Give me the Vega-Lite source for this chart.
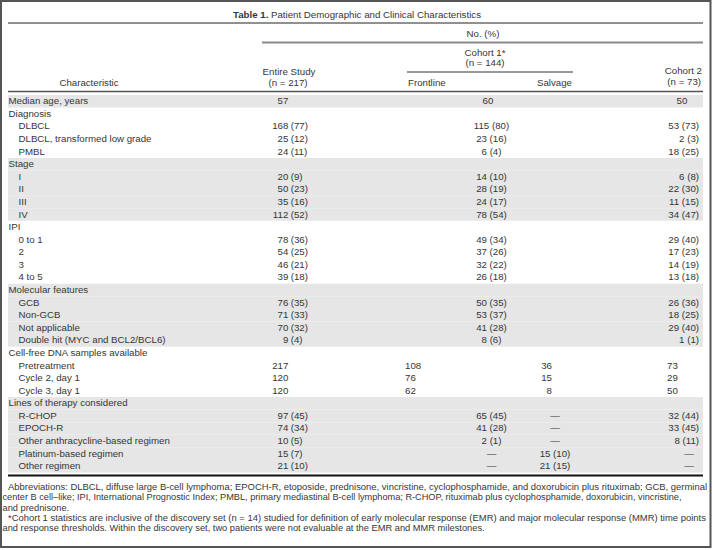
{
  "$schema": "https://vega.github.io/schema/vega-lite/v6.json",
  "width": 712,
  "height": 550,
  "autosize": {"type": "fit", "contains": "padding"},
  "padding": 0,
  "background": "white",
  "config": {
    "view": {"stroke": null},
    "axis": {"disable": true},
    "text": {"font": "Liberation Sans", "fontSize": 9.7, "color": "#363636", "baseline": "middle"}
  },
  "datasets": {
    "rows": [
      {"r": 1, "lab": "Median age, years", "lvl": "g", "sec": 1, "en": "57", "c1": "60", "c2": "50"},
      {"r": 2, "lab": "Diagnosis", "lvl": "g", "sec": 2},
      {"r": 3, "lab": "DLBCL", "lvl": "i", "sec": 2, "en": "168", "ep": "(77)", "fr": "115 (80)", "c2": "53 (73)"},
      {"r": 4, "lab": "DLBCL, transformed low grade", "lvl": "i", "sec": 2, "en": "25", "ep": "(12)", "fr": "23 (16)", "c2": "2 (3)"},
      {"r": 5, "lab": "PMBL", "lvl": "i", "sec": 2, "en": "24", "ep": "(11)", "fr": "6 (4)", "c2": "18 (25)"},
      {"r": 6, "lab": "Stage", "lvl": "g", "sec": 3},
      {"r": 7, "lab": "I", "lvl": "i", "sec": 3, "en": "20", "ep": "(9)", "fr": "14 (10)", "c2": "6 (8)"},
      {"r": 8, "lab": "II", "lvl": "i", "sec": 3, "en": "50", "ep": "(23)", "fr": "28 (19)", "c2": "22 (30)"},
      {"r": 9, "lab": "III", "lvl": "i", "sec": 3, "en": "35", "ep": "(16)", "fr": "24 (17)", "c2": "11 (15)"},
      {"r": 10, "lab": "IV", "lvl": "i", "sec": 3, "en": "112", "ep": "(52)", "fr": "78 (54)", "c2": "34 (47)"},
      {"r": 11, "lab": "IPI", "lvl": "g", "sec": 4},
      {"r": 12, "lab": "0 to 1", "lvl": "i", "sec": 4, "en": "78", "ep": "(36)", "fr": "49 (34)", "c2": "29 (40)"},
      {"r": 13, "lab": "2", "lvl": "i", "sec": 4, "en": "54", "ep": "(25)", "fr": "37 (26)", "c2": "17 (23)"},
      {"r": 14, "lab": "3", "lvl": "i", "sec": 4, "en": "46", "ep": "(21)", "fr": "32 (22)", "c2": "14 (19)"},
      {"r": 15, "lab": "4 to 5", "lvl": "i", "sec": 4, "en": "39", "ep": "(18)", "fr": "26 (18)", "c2": "13 (18)"},
      {"r": 16, "lab": "Molecular features", "lvl": "g", "sec": 5},
      {"r": 17, "lab": "GCB", "lvl": "i", "sec": 5, "en": "76", "ep": "(35)", "fr": "50 (35)", "c2": "26 (36)"},
      {"r": 18, "lab": "Non-GCB", "lvl": "i", "sec": 5, "en": "71", "ep": "(33)", "fr": "53 (37)", "c2": "18 (25)"},
      {"r": 19, "lab": "Not applicable", "lvl": "i", "sec": 5, "en": "70", "ep": "(32)", "fr": "41 (28)", "c2": "29 (40)"},
      {"r": 20, "lab": "Double hit (MYC and BCL2/BCL6)", "lvl": "i", "sec": 5, "en": "9", "ep": "(4)", "fr": "8 (6)", "c2": "1 (1)"},
      {"r": 21, "lab": "Cell-free DNA samples available", "lvl": "g", "sec": 6},
      {"r": 22, "lab": "Pretreatment", "lvl": "i", "sec": 6, "en": "217", "fr": "108", "sv": "36", "c2": "73"},
      {"r": 23, "lab": "Cycle 2, day 1", "lvl": "i", "sec": 6, "en": "120", "fr": "76", "sv": "15", "c2": "29"},
      {"r": 24, "lab": "Cycle 3, day 1", "lvl": "i", "sec": 6, "en": "120", "fr": "62", "sv": "8", "c2": "50"},
      {"r": 25, "lab": "Lines of therapy considered", "lvl": "g", "sec": 7},
      {"r": 26, "lab": "R-CHOP", "lvl": "i", "sec": 7, "en": "97", "ep": "(45)", "fr": "65 (45)", "sv": "—", "c2": "32 (44)"},
      {"r": 27, "lab": "EPOCH-R", "lvl": "i", "sec": 7, "en": "74", "ep": "(34)", "fr": "41 (28)", "sv": "—", "c2": "33 (45)"},
      {"r": 28, "lab": "Other anthracycline-based regimen", "lvl": "i", "sec": 7, "en": "10", "ep": "(5)", "fr": "2 (1)", "sv": "—", "c2": "8 (11)"},
      {"r": 29, "lab": "Platinum-based regimen", "lvl": "i", "sec": 7, "en": "15", "ep": "(7)", "fr": "—", "sv": "15 (10)", "c2": "—"},
      {"r": 30, "lab": "Other regimen", "lvl": "i", "sec": 7, "en": "21", "ep": "(10)", "fr": "—", "sv": "21 (15)", "c2": "—"}
    ]
  },
  "resolve": {"scale": {"y": "independent"}},
  "layer": [
    {
      "data": {"name": "rows"},
      "encoding": {
        "y": {"field": "r", "type": "ordinal", "axis": null,
          "scale": {"type": "band", "domain": [1,2,3,4,5,6,7,8,9,10,11,12,13,14,15,16,17,18,19,20,21,22,23,24,25,26,27,28,29,30], "range": [95, 472.5], "paddingInner": 0, "paddingOuter": 0}}
      },
      "layer": [
        {"transform": [{"filter": "datum.sec % 2 == 1"}],
         "mark": {"type": "rect", "color": "#e5e6e5"},
         "encoding": {"x": {"datum": 8, "type": "quantitative", "axis": null, "scale": {"domain": [0, 712], "range": [0, 712], "nice": false, "zero": false}}, "x2": {"datum": 703}}},
        {"transform": [{"filter": "datum.lvl == 'g'"}],
         "mark": {"type": "text", "align": "left"},
         "encoding": {"x": {"datum": 8.5, "type": "quantitative", "axis": null}, "text": {"field": "lab"}}},
        {"transform": [{"filter": "datum.lvl == 'i'"}],
         "mark": {"type": "text", "align": "left"},
         "encoding": {"x": {"datum": 18.5, "type": "quantitative", "axis": null}, "text": {"field": "lab"}}},
        {"transform": [{"filter": "isValid(datum.en)"}],
         "mark": {"type": "text", "align": "right"},
         "encoding": {"x": {"datum": 288.3, "type": "quantitative", "axis": null}, "text": {"field": "en"}}},
        {"transform": [{"filter": "isValid(datum.ep)"}],
         "mark": {"type": "text", "align": "left"},
         "encoding": {"x": {"datum": 290.7, "type": "quantitative", "axis": null}, "text": {"field": "ep"}}},
        {"transform": [{"filter": "isValid(datum.fr) && datum.sec != 6"}],
         "mark": {"type": "text", "align": "center"},
         "encoding": {"x": {"datum": 491.5, "type": "quantitative", "axis": null}, "text": {"field": "fr"}}},
        {"transform": [{"filter": "isValid(datum.fr) && datum.sec == 6"}],
         "mark": {"type": "text", "align": "left"},
         "encoding": {"x": {"datum": 405, "type": "quantitative", "axis": null}, "text": {"field": "fr"}}},
        {"transform": [{"filter": "isValid(datum.sv) && datum.sec != 6"}],
         "mark": {"type": "text", "align": "center"},
         "encoding": {"x": {"datum": 555, "type": "quantitative", "axis": null}, "text": {"field": "sv"}}},
        {"transform": [{"filter": "isValid(datum.sv) && datum.sec == 6"}],
         "mark": {"type": "text", "align": "right"},
         "encoding": {"x": {"datum": 552, "type": "quantitative", "axis": null}, "text": {"field": "sv"}}},
        {"transform": [{"filter": "isValid(datum.c1)"}],
         "mark": {"type": "text", "align": "center"},
         "encoding": {"x": {"datum": 488, "type": "quantitative", "axis": null}, "text": {"field": "c1"}}},
        {"transform": [{"filter": "isValid(datum.c2) && datum.sec != 1 && datum.sec != 6 && datum.c2 != '—'"}],
         "mark": {"type": "text", "align": "right"},
         "encoding": {"x": {"datum": 699, "type": "quantitative", "axis": null}, "text": {"field": "c2"}}},
        {"transform": [{"filter": "datum.c2 == '—'"}],
         "mark": {"type": "text", "align": "center"},
         "encoding": {"x": {"datum": 689, "type": "quantitative", "axis": null}, "text": {"field": "c2"}}},
        {"transform": [{"filter": "datum.sec == 1"}],
         "mark": {"type": "text", "align": "center"},
         "encoding": {"x": {"datum": 682, "type": "quantitative", "axis": null}, "text": {"field": "c2"}}},
        {"transform": [{"filter": "isValid(datum.c2) && datum.sec == 6"}],
         "mark": {"type": "text", "align": "left"},
         "encoding": {"x": {"datum": 667, "type": "quantitative", "axis": null}, "text": {"field": "c2"}}}
      ]
    },
    {
      "data": {"values": [{}]},
      "layer": [
        {"mark": {"type": "rect", "fillOpacity": 0, "stroke": "#555555", "strokeWidth": 2},
         "encoding": {"x": {"datum": 1, "type": "quantitative", "axis": null}, "x2": {"datum": 710.5},
           "y": {"datum": 1, "type": "quantitative", "axis": null, "scale": {"domain": [0, 550], "range": [0, 550], "nice": false, "zero": false}}, "y2": {"datum": 547}}},
        {"mark": {"type": "text", "align": "left", "fontWeight": "bold"},
         "encoding": {"x": {"datum": 233, "type": "quantitative", "axis": null}, "y": {"datum": 15, "type": "quantitative"}, "text": {"value": "Table 1."}}},
        {"mark": {"type": "text", "align": "left"},
         "encoding": {"x": {"datum": 271, "type": "quantitative", "axis": null}, "y": {"datum": 15, "type": "quantitative"}, "text": {"value": "Patient Demographic and Clinical Characteristics"}}},
        {"mark": {"type": "rule", "color": "#222222", "strokeWidth": 1},
         "encoding": {"x": {"datum": 8, "type": "quantitative", "axis": null}, "x2": {"datum": 703}, "y": {"datum": 23, "type": "quantitative"}}},
        {"mark": {"type": "text", "align": "center"},
         "encoding": {"x": {"datum": 483, "type": "quantitative", "axis": null}, "y": {"datum": 34, "type": "quantitative"}, "text": {"value": "No. (%)"}}},
        {"mark": {"type": "rule", "color": "#8a8a8a", "strokeWidth": 2},
         "encoding": {"x": {"datum": 262, "type": "quantitative", "axis": null}, "x2": {"datum": 703}, "y": {"datum": 42.5, "type": "quantitative"}}},
        {"mark": {"type": "text", "align": "center"},
         "encoding": {"x": {"datum": 485, "type": "quantitative", "axis": null}, "y": {"datum": 53, "type": "quantitative"}, "text": {"value": "Cohort 1*"}}},
        {"mark": {"type": "text", "align": "center"},
         "encoding": {"x": {"datum": 485, "type": "quantitative", "axis": null}, "y": {"datum": 63, "type": "quantitative"}, "text": {"value": "(n = 144)"}}},
        {"mark": {"type": "rule", "color": "#333333", "strokeWidth": 1},
         "encoding": {"x": {"datum": 407, "type": "quantitative", "axis": null}, "x2": {"datum": 573}, "y": {"datum": 72, "type": "quantitative"}}},
        {"mark": {"type": "text", "align": "center"},
         "encoding": {"x": {"datum": 89, "type": "quantitative", "axis": null}, "y": {"datum": 83, "type": "quantitative"}, "text": {"value": "Characteristic"}}},
        {"mark": {"type": "text", "align": "center"},
         "encoding": {"x": {"datum": 289, "type": "quantitative", "axis": null}, "y": {"datum": 72, "type": "quantitative"}, "text": {"value": "Entire Study"}}},
        {"mark": {"type": "text", "align": "center"},
         "encoding": {"x": {"datum": 288, "type": "quantitative", "axis": null}, "y": {"datum": 82.5, "type": "quantitative"}, "text": {"value": "(n = 217)"}}},
        {"mark": {"type": "text", "align": "left"},
         "encoding": {"x": {"datum": 408, "type": "quantitative", "axis": null}, "y": {"datum": 83, "type": "quantitative"}, "text": {"value": "Frontline"}}},
        {"mark": {"type": "text", "align": "right"},
         "encoding": {"x": {"datum": 572, "type": "quantitative", "axis": null}, "y": {"datum": 83, "type": "quantitative"}, "text": {"value": "Salvage"}}},
        {"mark": {"type": "text", "align": "right"},
         "encoding": {"x": {"datum": 702, "type": "quantitative", "axis": null}, "y": {"datum": 71, "type": "quantitative"}, "text": {"value": "Cohort 2"}}},
        {"mark": {"type": "text", "align": "right"},
         "encoding": {"x": {"datum": 701, "type": "quantitative", "axis": null}, "y": {"datum": 81.5, "type": "quantitative"}, "text": {"value": "(n = 73)"}}},
        {"mark": {"type": "rule", "color": "#555555", "strokeWidth": 1.5},
         "encoding": {"x": {"datum": 8, "type": "quantitative", "axis": null}, "x2": {"datum": 703}, "y": {"datum": 91.5, "type": "quantitative"}}},
        {"mark": {"type": "rule", "color": "#111111", "strokeWidth": 2},
         "encoding": {"x": {"datum": 8, "type": "quantitative", "axis": null}, "x2": {"datum": 703}, "y": {"datum": 475.5, "type": "quantitative"}}},
        {"mark": {"type": "text", "align": "left", "fontSize": 9.45},
         "encoding": {"x": {"datum": 8, "type": "quantitative", "axis": null}, "y": {"datum": 487, "type": "quantitative"}, "text": {"value": "Abbreviations: DLBCL, diffuse large B-cell lymphoma; EPOCH-R, etoposide, prednisone, vincristine, cyclophosphamide, and doxorubicin plus rituximab; GCB, germinal"}}},
        {"mark": {"type": "text", "align": "left", "fontSize": 9.2},
         "encoding": {"x": {"datum": 2.5, "type": "quantitative", "axis": null}, "y": {"datum": 497.3, "type": "quantitative"}, "text": {"value": "center B cell–like; IPI, International Prognostic Index; PMBL, primary mediastinal B-cell lymphoma; R-CHOP, rituximab plus cyclophosphamide, doxorubicin, vincristine,"}}},
        {"mark": {"type": "text", "align": "left", "fontSize": 9.3},
         "encoding": {"x": {"datum": 2.5, "type": "quantitative", "axis": null}, "y": {"datum": 507.7, "type": "quantitative"}, "text": {"value": "and prednisone."}}},
        {"mark": {"type": "text", "align": "left", "fontSize": 9.45},
         "encoding": {"x": {"datum": 8, "type": "quantitative", "axis": null}, "y": {"datum": 518, "type": "quantitative"}, "text": {"value": "*Cohort 1 statistics are inclusive of the discovery set (n = 14) studied for definition of early molecular response (EMR) and major molecular response (MMR) time points"}}},
        {"mark": {"type": "text", "align": "left", "fontSize": 9.3},
         "encoding": {"x": {"datum": 2.5, "type": "quantitative", "axis": null}, "y": {"datum": 528.3, "type": "quantitative"}, "text": {"value": "and response thresholds. Within the discovery set, two patients were not evaluable at the EMR and MMR milestones."}}}
      ]
    }
  ]
}
